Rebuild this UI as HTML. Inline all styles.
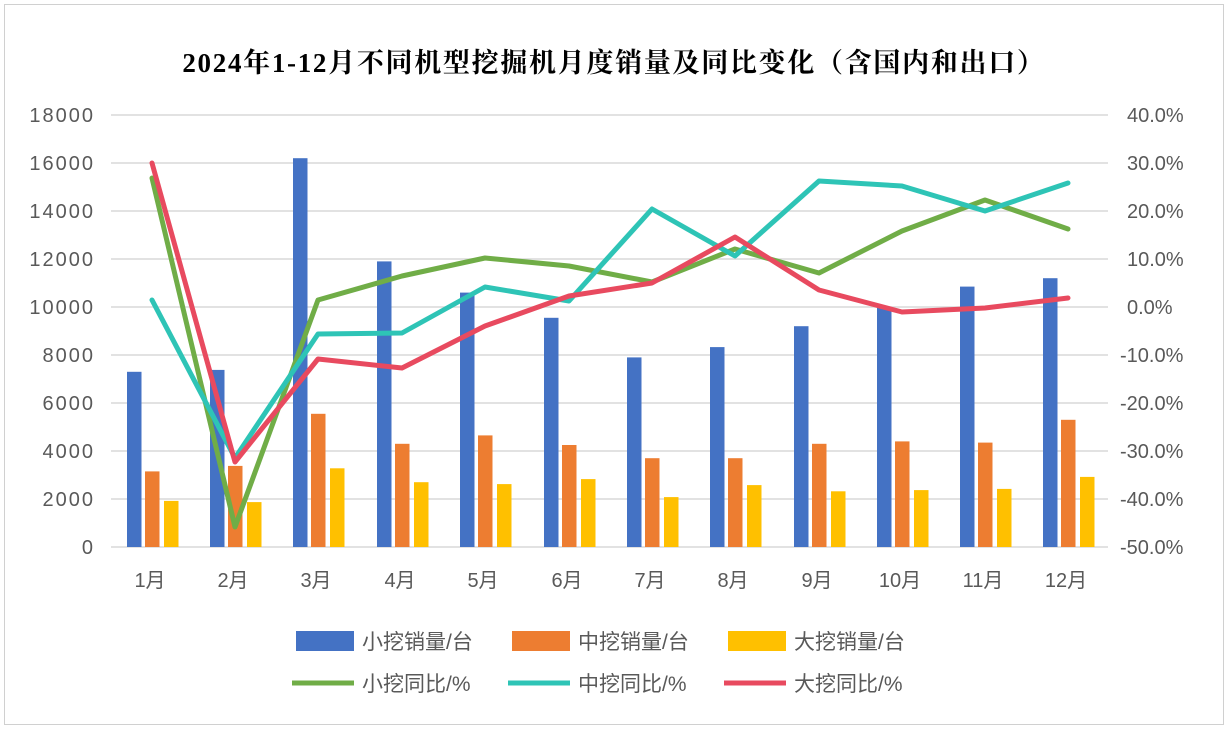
<!DOCTYPE html>
<html><head><meta charset="utf-8"><style>
body{margin:0;background:#fff}
svg text{font-family:"Liberation Sans","Noto Sans CJK SC",sans-serif}
</style></head><body>
<svg width="1228" height="729" xmlns="http://www.w3.org/2000/svg">
<rect x="0" y="0" width="1228" height="729" fill="#fff"/>
<rect x="4.5" y="4.5" width="1219" height="720" fill="none" stroke="#d0d0d0"/>
<text x="614" y="72" text-anchor="middle" font-size="27" letter-spacing="1.7" font-weight="bold" style='font-family:"Liberation Serif","Noto Serif CJK SC",serif' fill="#000">2024年1-12月不同机型挖掘机月度销量及同比变化（含国内和出口）</text>
<g stroke="#d9d9d9" stroke-width="1.5">
<line x1="111" x2="1108" y1="115" y2="115"/><line x1="111" x2="1108" y1="163" y2="163"/>
<line x1="111" x2="1108" y1="211" y2="211"/><line x1="111" x2="1108" y1="259" y2="259"/>
<line x1="111" x2="1108" y1="307" y2="307"/><line x1="111" x2="1108" y1="355" y2="355"/>
<line x1="111" x2="1108" y1="403" y2="403"/><line x1="111" x2="1108" y1="451" y2="451"/>
<line x1="111" x2="1108" y1="499" y2="499"/><line x1="111" x2="1108" y1="547" y2="547"/>
</g>
<g font-size="20" letter-spacing="2" fill="#595959" text-anchor="end">
<text x="95" y="122">18000</text><text x="95" y="170">16000</text><text x="95" y="218">14000</text>
<text x="95" y="266">12000</text><text x="95" y="314">10000</text><text x="95" y="362">8000</text>
<text x="95" y="410">6000</text><text x="95" y="458">4000</text><text x="95" y="506">2000</text><text x="95" y="554">0</text>
</g>
<g font-size="20" fill="#595959" text-anchor="start">
<text x="1127" y="122">40.0%</text><text x="1127" y="170">30.0%</text><text x="1127" y="218">20.0%</text>
<text x="1127" y="266">10.0%</text><text x="1127" y="314">0.0%</text><text x="1120" y="362">-10.0%</text>
<text x="1120" y="410">-20.0%</text><text x="1120" y="458">-30.0%</text><text x="1120" y="506">-40.0%</text><text x="1120" y="554">-50.0%</text>
</g>
<g fill="#4472c4">
<rect x="127" y="371.8" width="14.5" height="175.2"/><rect x="210" y="369.9" width="14.5" height="177.1"/>
<rect x="293" y="158.2" width="14.5" height="388.8"/><rect x="377" y="261.4" width="14.5" height="285.6"/>
<rect x="460" y="292.6" width="14.5" height="254.4"/><rect x="544" y="317.8" width="14.5" height="229.2"/>
<rect x="627" y="357.4" width="14.5" height="189.6"/><rect x="710" y="347.1" width="14.5" height="199.9"/>
<rect x="794" y="326.2" width="14.5" height="220.8"/><rect x="877" y="307" width="14.5" height="240"/>
<rect x="960" y="286.6" width="14.5" height="260.4"/><rect x="1043" y="278.2" width="14.5" height="268.8"/>
</g>
<g fill="#ed7d31">
<rect x="145" y="471.4" width="14.5" height="75.6"/><rect x="228" y="465.9" width="14.5" height="81.1"/>
<rect x="311" y="413.8" width="14.5" height="133.2"/><rect x="395" y="443.8" width="14.5" height="103.2"/>
<rect x="478" y="435.4" width="14.5" height="111.6"/><rect x="562" y="445" width="14.5" height="102"/>
<rect x="645" y="458.2" width="14.5" height="88.8"/><rect x="728" y="458.2" width="14.5" height="88.8"/>
<rect x="812" y="443.8" width="14.5" height="103.2"/><rect x="895" y="441.4" width="14.5" height="105.6"/>
<rect x="978" y="442.6" width="14.5" height="104.4"/><rect x="1061" y="419.8" width="14.5" height="127.2"/>
</g>
<g fill="#ffc000">
<rect x="164" y="500.9" width="14.5" height="46.1"/><rect x="247" y="502.1" width="14.5" height="44.9"/>
<rect x="330" y="468.3" width="14.5" height="78.7"/><rect x="414" y="482.2" width="14.5" height="64.8"/>
<rect x="497" y="484.1" width="14.5" height="62.9"/><rect x="581" y="479.1" width="14.5" height="67.9"/>
<rect x="664" y="497.1" width="14.5" height="49.9"/><rect x="747" y="485.1" width="14.5" height="61.9"/>
<rect x="831" y="491.3" width="14.5" height="55.7"/><rect x="914" y="490.1" width="14.5" height="56.9"/>
<rect x="997" y="488.9" width="14.5" height="58.1"/><rect x="1080" y="476.9" width="14.5" height="70.1"/>
</g>
<g font-size="20" fill="#595959" text-anchor="middle">
<text x="150" y="587">1月</text><text x="233" y="587">2月</text><text x="316" y="587">3月</text>
<text x="400" y="587">4月</text><text x="483" y="587">5月</text><text x="567" y="587">6月</text>
<text x="650" y="587">7月</text><text x="733" y="587">8月</text><text x="817" y="587">9月</text>
<text x="900" y="587">10月</text><text x="983" y="587">11月</text><text x="1066" y="587">12月</text>
</g>
<g fill="none" stroke-width="5" stroke-linejoin="round" stroke-linecap="round">
<path stroke="#70ad47" d="M152 178 L235 527 L318 300 L402 276 L485 258 L569 266 L652 282 L735 249 L819 273 L902 231 L985 200 L1068 229"/>
<path stroke="#2ec4b6" d="M152 300 L235 458 L318 334 L402 333 L485 287 L569 301 L652 209 L735 256 L819 181 L902 186 L985 211 L1068 183"/>
<path stroke="#e84a5f" d="M152 163 L235 462 L318 359 L402 368 L485 326 L569 296 L652 283 L735 237 L819 290 L902 312 L985 308 L1068 298"/>
</g>
<g font-size="21" fill="#595959">
<rect x="296" y="631" width="58" height="20" fill="#4472c4"/><text x="362" y="649">小挖销量/台</text>
<rect x="512" y="631" width="58" height="20" fill="#ed7d31"/><text x="578" y="649">中挖销量/台</text>
<rect x="728" y="631" width="58" height="20" fill="#ffc000"/><text x="794" y="649">大挖销量/台</text>
<line x1="292" x2="354" y1="683" y2="683" stroke="#70ad47" stroke-width="5"/><text x="362" y="691">小挖同比/%</text>
<line x1="508" x2="570" y1="683" y2="683" stroke="#2ec4b6" stroke-width="5"/><text x="578" y="691">中挖同比/%</text>
<line x1="724" x2="786" y1="683" y2="683" stroke="#e84a5f" stroke-width="5"/><text x="794" y="691">大挖同比/%</text>
</g>
</svg>
</body></html>
